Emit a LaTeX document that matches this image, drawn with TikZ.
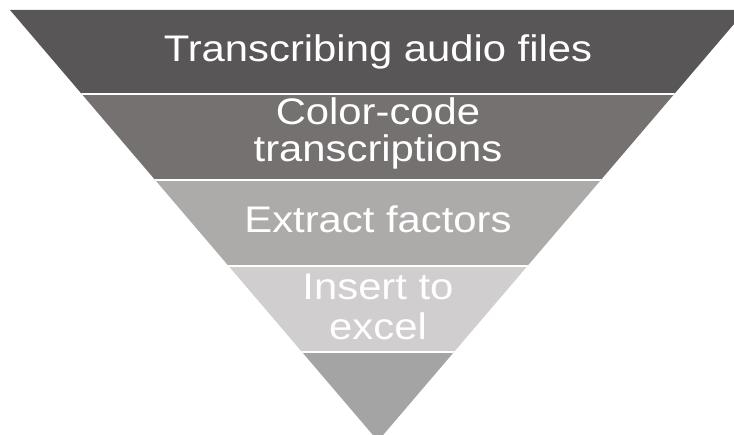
\documentclass[tikz,border=0pt]{standalone}
\usepackage{fontspec}
\setmainfont{Liberation Sans}
\usepackage{graphicx}
\definecolor{bandA}{HTML}{595657}
\definecolor{bandB}{HTML}{767171}
\definecolor{bandC}{HTML}{ADAAAA}
\definecolor{bandD}{HTML}{D0CECE}
\definecolor{bandE}{HTML}{A4A4A4}
\newcommand\sx[1]{\scalebox{1.13}[1]{#1}}
\begin{document}
\begin{tikzpicture}[x=1pt,y=-1pt,
  lbl/.style={text=white, font=\fontsize{37}{38}\selectfont, inner sep=0pt, anchor=base},
  sepline/.style={draw=white, line width=2pt}]
\useasboundingbox (0,0) rectangle (734,435);
\begin{scope}
  \clip (0,0) rectangle (734,435);
  \clip (10,10) -- (746,10) -- (378,441) -- cycle;
  \fill[bandA] (0,0) rectangle (760,94);
  \fill[bandB] (0,94) rectangle (760,180);
  \fill[bandC] (0,180) rectangle (760,266);
  \fill[bandD] (0,266) rectangle (760,352.5);
  \fill[bandE] (0,352.5) rectangle (760,450);
  \draw[sepline] (0,94) -- (760,94);
  \draw[sepline] (0,180) -- (760,180);
  \draw[sepline] (0,266) -- (760,266);
  \draw[sepline] (0,352.5) -- (760,352.5);
\end{scope}
\node[lbl] (t1) at (378,62) {\sx{Transcribing audio files}};
\node[lbl] (t2a) at (378,125) {\sx{Color-code}};
\node[lbl] (t2b) at (378,162) {\sx{transcriptions}};
\node[lbl] (t3) at (378,232.7) {\sx{Extract factors}};
\node[lbl] (t4a) at (378,300) {\sx{Insert to}};
\node[lbl] (t4b) at (378,340) {\sx{excel}};
\end{tikzpicture}
\end{document}
